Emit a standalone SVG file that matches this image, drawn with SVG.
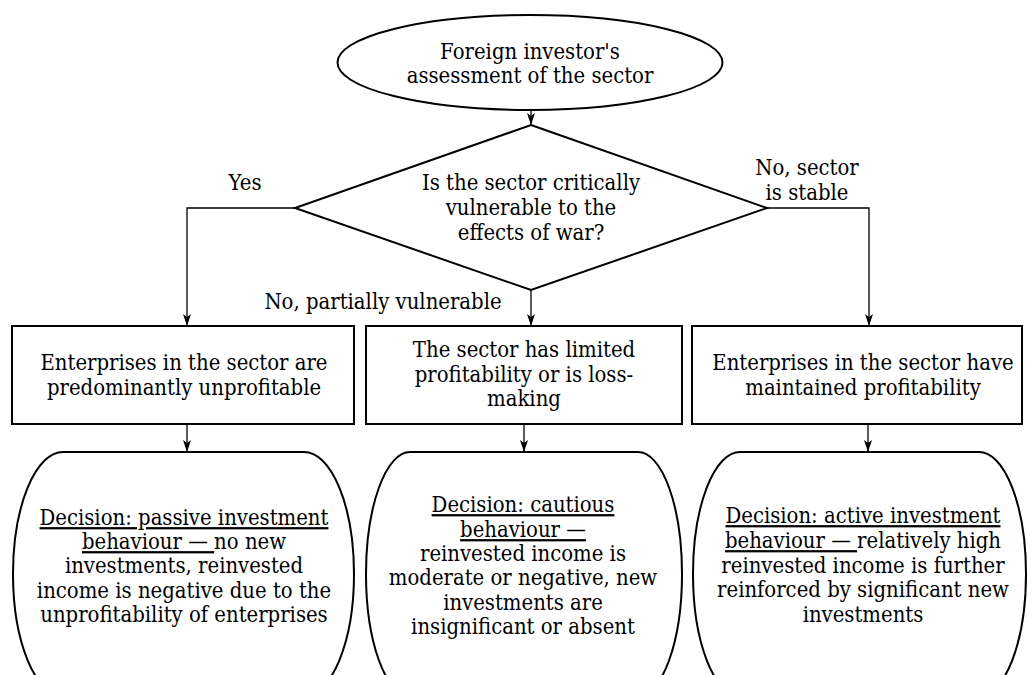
<svg xmlns="http://www.w3.org/2000/svg" width="1027" height="675" viewBox="0 0 1027 675">
<style>
  text { font-family: 'DejaVu Serif', 'Liberation Serif', serif; font-size: 22.5px; fill: #000; text-anchor: middle; }
  .shape { fill: #fff; stroke: #000; stroke-width: 2; }
  .conn { fill: none; stroke: #000; stroke-width: 1.3; marker-end: url(#arrow); }
  .u { text-decoration: underline; }
</style>
<defs>
  <marker id="arrow" viewBox="0 0 12 10" refX="12" refY="5" markerWidth="12" markerHeight="10" markerUnits="userSpaceOnUse" orient="auto">
    <path d="M0,1 L12,5 L0,9 L3,5 Z" fill="#000"/>
  </marker>
</defs>
<rect width="1027" height="675" fill="#fff"/>

<g id="connectors">
  <path class="conn" d="M531,110 L531,125"/>
  <path class="conn" d="M295,208 L187,208 L187,326"/>
  <path class="conn" d="M531,290 L531,326"/>
  <path class="conn" d="M767,208 L869,208 L869,326"/>
  <path class="conn" d="M187,424 L187,452"/>
  <path class="conn" d="M524,424 L524,452"/>
  <path class="conn" d="M868,424 L868,452"/>
</g>

<g id="start">
  <ellipse class="shape" cx="530" cy="62.5" rx="192.5" ry="47.5"/>
  <g transform="matrix(0.875 0 0 1 66.25 0)">
    <text x="530" y="59">Foreign investor's</text>
    <text x="530" y="83">assessment of the sector</text>
  </g>
</g>

<g id="decision">
  <polygon class="shape" points="531,125 767,208 531,290 295,208"/>
  <g transform="matrix(0.875 0 0 1 66.375 0)">
    <text x="531" y="190">Is the sector critically</text>
    <text x="531" y="215">vulnerable to the</text>
    <text x="531" y="240">effects of war?</text>
  </g>
</g>

<g id="labels">
  <g transform="matrix(0.875 0 0 1 30.625 0)"><text x="245" y="190">Yes</text></g>
  <g transform="matrix(0.875 0 0 1 100.875 0)">
    <text x="807" y="175">No, sector</text>
    <text x="807" y="200">is stable</text>
  </g>
  <g transform="matrix(0.875 0 0 1 47.875 0)"><text x="383" y="309">No, partially vulnerable</text></g>
</g>

<g id="box-unprofitable">
  <rect class="shape" x="12" y="326" width="342" height="98"/>
  <g transform="matrix(0.875 0 0 1 23 0)">
    <text x="184" y="370">Enterprises in the sector are</text>
    <text x="184" y="395">predominantly unprofitable</text>
  </g>
</g>

<g id="box-limited">
  <rect class="shape" x="366" y="326" width="316" height="98"/>
  <g transform="matrix(0.875 0 0 1 65.5 0)">
    <text x="524" y="357">The sector has limited</text>
    <text x="524" y="382">profitability or is loss-</text>
    <text x="524" y="406">making</text>
  </g>
</g>

<g id="box-maintained">
  <rect class="shape" x="692" y="326" width="330" height="98"/>
  <g transform="matrix(0.875 0 0 1 107.875 0)">
    <text x="863" y="370">Enterprises in the sector have</text>
    <text x="863" y="395">maintained profitability</text>
  </g>
</g>

<g id="decision-passive">
  <rect class="shape" x="13" y="452" width="341" height="244" rx="50" ry="122"/>
  <g transform="matrix(0.875 0 0 1 23 0)">
    <text x="184" y="525"><tspan class="u">Decision: passive investment</tspan></text>
    <text x="184" y="549"><tspan class="u">behaviour — </tspan>no new</text>
    <text x="184" y="573">investments, reinvested</text>
    <text x="184" y="598">income is negative due to the</text>
    <text x="184" y="622">unprofitability of enterprises</text>
  </g>
</g>

<g id="decision-cautious">
  <rect class="shape" x="366" y="452" width="316" height="244" rx="44" ry="122"/>
  <g transform="matrix(0.875 0 0 1 65.375 0)">
    <text x="523" y="512"><tspan class="u">Decision: cautious</tspan></text>
    <text x="523" y="537"><tspan class="u">behaviour —</tspan></text>
    <text x="523" y="561">reinvested income is</text>
    <text x="523" y="585">moderate or negative, new</text>
    <text x="523" y="610">investments are</text>
    <text x="523" y="634">insignificant or absent</text>
  </g>
</g>

<g id="decision-active">
  <rect class="shape" x="693" y="452" width="333" height="244" rx="47" ry="122"/>
  <g transform="matrix(0.875 0 0 1 107.875 0)">
    <text x="863" y="523"><tspan class="u">Decision: active investment</tspan></text>
    <text x="863" y="548"><tspan class="u">behaviour — </tspan>relatively high</text>
    <text x="863" y="573">reinvested income is further</text>
    <text x="863" y="597">reinforced by significant new</text>
    <text x="863" y="622">investments</text>
  </g>
</g>
</svg>
